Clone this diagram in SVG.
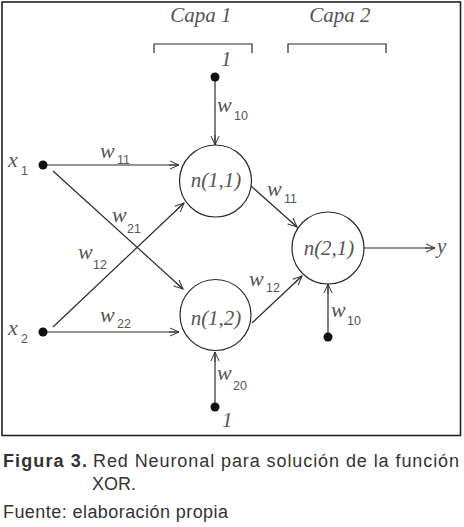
<svg xmlns="http://www.w3.org/2000/svg" width="464" height="527" viewBox="0 0 464 527">
<defs>
<marker id="ah" markerWidth="12" markerHeight="10" refX="10" refY="5" orient="auto" markerUnits="userSpaceOnUse">
<polyline points="1,1 10,5 1,9" fill="none" stroke="#333" stroke-width="1"/>
<line x1="0" y1="5" x2="10" y2="5" stroke="#333" stroke-width="1"/>
</marker>
<style>
.ln{stroke:#2a2a2a;stroke-width:1.2;fill:none}
.nd{stroke:#2a2a2a;stroke-width:1.2;fill:#fff}
.dot{fill:#111}
.it{font-family:"Liberation Serif",serif;font-style:italic;fill:#555;font-size:21px}
.w{font-family:"Liberation Serif",serif;font-style:italic;fill:#555;font-size:22px}
.sb{font-family:"Liberation Sans",sans-serif;fill:#555;font-size:12.5px}
.cap{font-family:"Liberation Sans",Arial,sans-serif;fill:#333;font-size:18px}
</style>
</defs>
<rect x="2" y="2" width="458.5" height="433.5" fill="#fff" stroke="#222" stroke-width="1.6"/>

<g id="layers">
<text class="it" x="201" y="22" text-anchor="middle">Capa 1</text>
<text class="it" x="340" y="22" text-anchor="middle">Capa 2</text>
<polyline class="ln" points="154,53 154,44 252,44 252,53"/>
<polyline class="ln" points="288,53 288,44 386,44 386,53"/>
</g>

<g id="connectors">
<line class="ln" x1="215" y1="80" x2="215" y2="145" marker-end="url(#ah)"/>
<line class="ln" x1="47" y1="165" x2="179" y2="165" marker-end="url(#ah)"/>
<line class="ln" x1="53" y1="171" x2="183" y2="289" marker-end="url(#ah)"/>
<line class="ln" x1="53" y1="327" x2="184" y2="203" marker-end="url(#ah)"/>
<line class="ln" x1="47" y1="332" x2="179" y2="332" marker-end="url(#ah)"/>
<line class="ln" x1="251" y1="186" x2="297" y2="227" marker-end="url(#ah)"/>
<line class="ln" x1="252" y1="323" x2="302" y2="276" marker-end="url(#ah)"/>
<line class="ln" x1="364" y1="248" x2="435" y2="248" marker-end="url(#ah)"/>
<line class="ln" x1="328" y1="334" x2="328" y2="284" marker-end="url(#ah)"/>
<line class="ln" x1="215" y1="404" x2="215" y2="352" marker-end="url(#ah)"/>
</g>

<g id="bias1">
<circle class="dot" cx="215" cy="77" r="4.5"/>
<text class="it" x="221" y="66" font-size="17">1</text>
<text class="w" x="217" y="112">w</text><text class="sb" x="234" y="120">10</text>
</g>

<g id="x1">
<circle class="dot" cx="43" cy="165" r="4.5"/>
<text class="w" x="8" y="167">x</text><text class="sb" x="21" y="175">1</text>
</g>

<g id="x2">
<circle class="dot" cx="43" cy="332" r="4.5"/>
<text class="w" x="8" y="335">x</text><text class="sb" x="21" y="343">2</text>
</g>

<g id="weights">
<text class="w" x="100" y="158">w</text><text class="sb" x="117" y="164">11</text>
<text class="w" x="112" y="222">w</text><text class="sb" x="127" y="233">21</text>
<text class="w" x="78" y="259">w</text><text class="sb" x="93" y="269">12</text>
<text class="w" x="100" y="322">w</text><text class="sb" x="117" y="328">22</text>
<text class="w" x="267" y="196">w</text><text class="sb" x="284" y="203">11</text>
<text class="w" x="249" y="286">w</text><text class="sb" x="266" y="292">12</text>
<text class="w" x="331" y="317">w</text><text class="sb" x="347" y="325">10</text>
<text class="w" x="217" y="380">w</text><text class="sb" x="233" y="390">20</text>
</g>

<g id="n11">
<circle class="nd" cx="215.5" cy="181" r="36"/>
<text class="it" x="216" y="187" text-anchor="middle">n(1,1)</text>
</g>

<g id="n12">
<circle class="nd" cx="215.5" cy="315" r="35.5"/>
<text class="it" x="216" y="325" text-anchor="middle">n(1,2)</text>
</g>

<g id="n21">
<circle class="nd" cx="328" cy="248" r="36"/>
<text class="it" x="329" y="255" text-anchor="middle">n(2,1)</text>
</g>

<g id="output">
<text class="it" x="437" y="253">y</text>
</g>

<g id="bias2">
<circle class="dot" cx="328" cy="337" r="4.5"/>
</g>

<g id="bias3">
<circle class="dot" cx="215" cy="407" r="4.5"/>
<text class="it" x="222" y="427" font-size="17">1</text>
</g>

<g id="caption">
<text class="cap" x="3" y="467" font-weight="bold" textLength="84" lengthAdjust="spacing">Figura 3.</text>
<text class="cap" x="93" y="467" textLength="366" lengthAdjust="spacing">Red Neuronal para solución de la función</text>
<text class="cap" x="92" y="490">XOR.</text>
<text class="cap" x="3" y="518" textLength="225" lengthAdjust="spacing">Fuente: elaboración propia</text>
</g>
</svg>
